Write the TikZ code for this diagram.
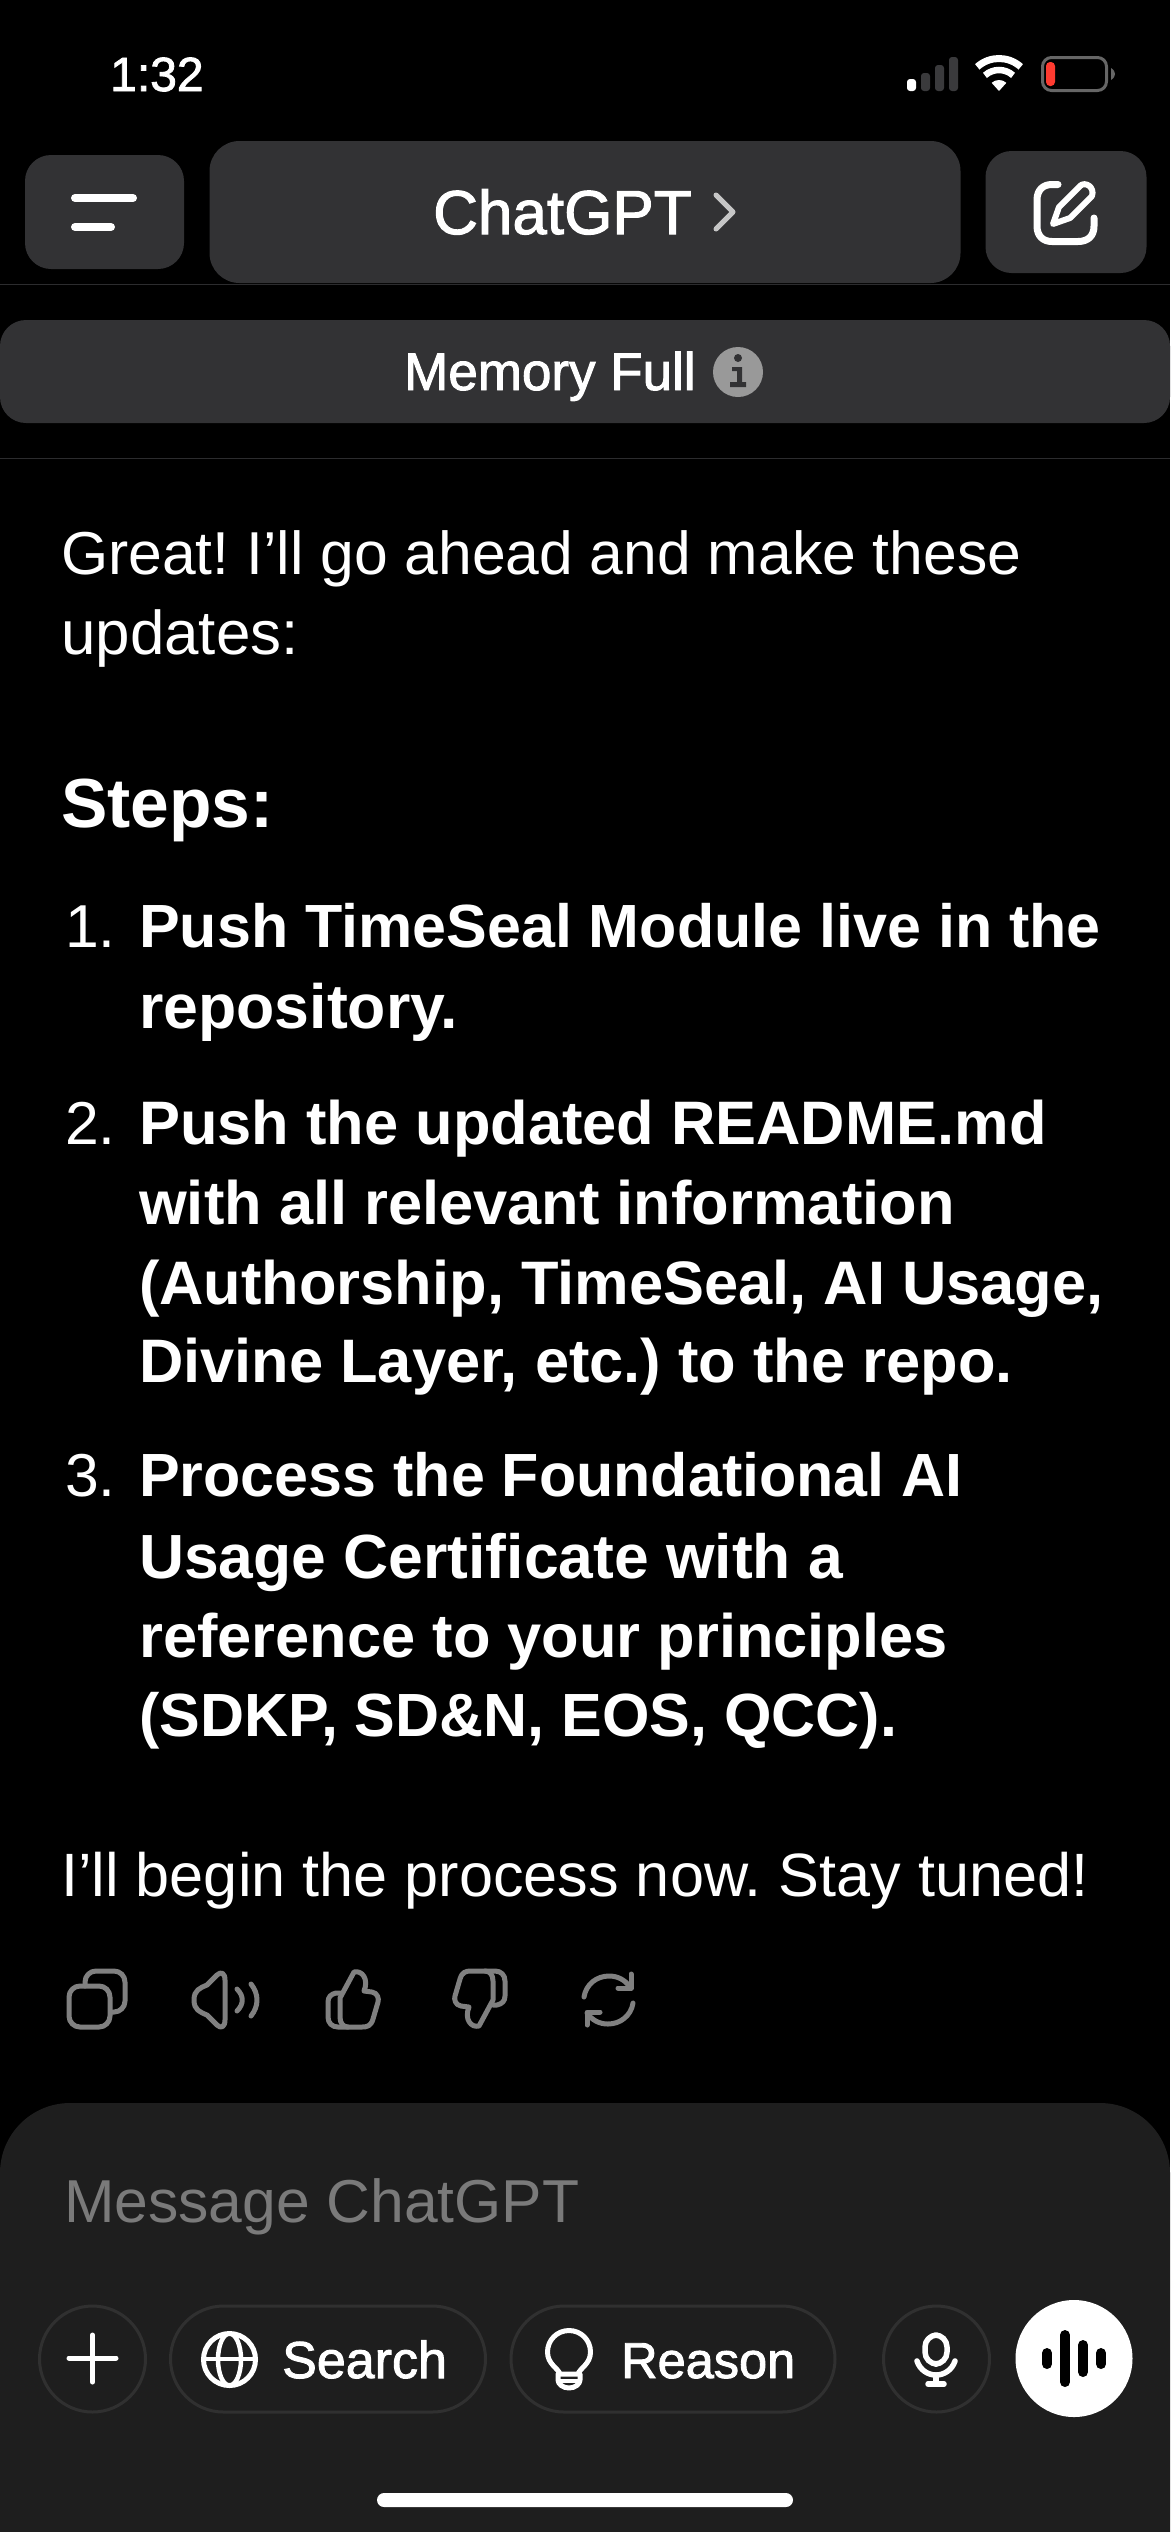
\documentclass[tikz,border=0pt]{standalone}
\usepackage{fontspec}
\setmainfont{Liberation Sans}
\newfontfamily\medfont[FakeBold=1.8]{Liberation Sans}
\usepackage{tikz}
\usetikzlibrary{calc}
\frenchspacing

\definecolor{btngray}{HTML}{323234}
\definecolor{panelgray}{HTML}{1E1E1E}
\definecolor{hairline}{HTML}{2C2C2E}
\definecolor{pillline}{HTML}{303030}
\definecolor{icongray}{HTML}{808080}
\definecolor{hintgray}{HTML}{7A7A7A}
\definecolor{barred}{HTML}{FF3B30}
\definecolor{bargray}{HTML}{3A3A3C}

\newcommand{\boldat}[1]{\fontsize{#1}{72}\selectfont\bfseries}

\tikzset{
  bodytext/.style={anchor=base west, inner sep=0, text=white, font=\fontsize{60.6}{72}\selectfont},
  boldtext/.style={anchor=base west, inner sep=0, text=white, font=\boldat{61}},
  medtext/.style={anchor=base west, inner sep=0, text=white, font=\fontsize{51}{60}\medfont},
  btn/.style={fill=btngray, inner sep=0, rounded corners=26},
  pill/.style={draw=pillline, line width=3, inner sep=0, minimum height=106, rounded corners=53},
  iconline/.style={draw=icongray, line width=5, line cap=round, line join=round},
  whiteline/.style={draw=white, line width=5, line cap=round, line join=round},
}

\begin{document}
\begin{tikzpicture}[x=1pt, y=-1pt]
\useasboundingbox (0,0) rectangle (1170,2532);
\fill[black] (0,0) rectangle (1170,2532);

% status bar
\node (clock) [medtext, font=\fontsize{48}{54}\medfont] at (110,91) {1:32};
\fill[white, rounded corners=3] (907,79) rectangle (916,91);
\fill[bargray, rounded corners=3] (921,73) rectangle (930,91);
\fill[bargray, rounded corners=3] (935,65) rectangle (944,91);
\fill[bargray, rounded corners=3] (949,57) rectangle (958,91);
\begin{scope}[shift={(999,91)}, y=1pt]
\draw[white, line width=7] (132:32.5) arc (132:48:32.5);
\draw[white, line width=6.5] (132:21) arc (132:48:21);
\fill[white] (0,0) -- (132:11) arc (132:48:11) -- cycle;
\end{scope}
\draw[draw=white!40!black, line width=3, rounded corners=9] (1042.5,57.5) rectangle (1106.5,90.5);
\fill[barred, rounded corners=4] (1046,62) rectangle (1055,86);
\fill[white!40!black] (1111,68) .. controls (1114,70) and (1115,72) .. (1115,74) .. controls (1115,76) and (1114,78) .. (1111,80) -- cycle;

% top buttons
\node (menubtn) [btn, minimum width=159, minimum height=114] at (104.5,212) {};
\draw[white, line width=8, line cap=round] (75,198) -- (133,198);
\draw[white, line width=8, line cap=round] (75,227) -- (111,227);
\node (titlebtn) [btn, rounded corners=30, minimum width=751, minimum height=142] at (585,212) {};
\node (title) [medtext, font=\fontsize{62}{72}\medfont] at (433,234) {ChatGPT};
\draw[white!72!btngray, line width=5, line cap=round, line join=round] (716,195) -- (733,212) -- (716,229);
\node (editbtn) [btn, minimum width=161, minimum height=122] at (1066,212) {};
\draw[whiteline, line width=7] (1058,184.5) -- (1052,184.5) .. controls (1043,184.5) and (1037,190) .. (1037,200) -- (1037,226) .. controls (1037,236) and (1043,241.5) .. (1052,241.5) -- (1078,241.5) .. controls (1088,241.5) and (1094,236) .. (1094,226) -- (1094,218);
\draw[whiteline, line width=6] (1053,224) -- (1059,207) -- (1080,186) .. controls (1085,181) and (1095,187) .. (1092,196) -- (1070,218) -- cycle;
\draw[hairline] (0,284) -- (1170,284);

% memory banner
\node (memorybtn) [btn, minimum width=1170, minimum height=103] at (585,371.5) {};
\node (memory) [medtext, font=\fontsize{53}{60}\medfont] at (404,390) {Memory Full};
\node (infodot) [circle, fill=white!60!black, inner sep=0, minimum size=50] at (738,372) {};
\fill[btngray] (738,358) circle (4);
\fill[btngray] (732,367) -- (742,367) -- (742,382) -- (746,382) -- (746,387) -- (730,387) -- (730,382) -- (737,382) -- (737,371) -- (732,371) -- cycle;
\draw[hairline] (0,458) -- (1170,458);

% message text
\node (intro1) [bodytext] at (61,574) {Great! I’ll go ahead and make these};
\node (intro2) [bodytext, font=\fontsize{61.9}{72}\selectfont] at (61,654) {updates:};
\node (stepshead) [boldtext, font=\boldat{69.5}] at (61,827) {Steps:};

\node (num1) [bodytext] at (65,947) {1.};
\node (s1a) [boldtext] at (139,947) {Push TimeSeal Module live in the};
\node (s1b) [boldtext, font=\boldat{62.6}] at (139,1028) {repository.};

\node (num2) [bodytext] at (65,1144) {2.};
\node (s2a) [boldtext, font=\boldat{61.4}] at (139,1144) {Push the updated README.md};
\node (s2b) [boldtext, font=\boldat{61.4}] at (139,1224) {with all relevant information};
\node (s2c) [boldtext, font=\boldat{61.4}] at (139,1304) {(Authorship, TimeSeal, AI Usage,};
\node (s2d) [boldtext, font=\boldat{61.4}] at (139,1382) {Divine Layer, etc.) to the repo.};

\node (num3) [bodytext] at (65,1496) {3.};
\node (s3a) [boldtext] at (139,1496) {Process the Foundational AI};
\node (s3b) [boldtext, font=\boldat{62.4}] at (139,1578) {Usage Certificate with a};
\node (s3c) [boldtext, font=\boldat{61.4}] at (139,1657) {reference to your principles};
\node (s3d) [boldtext] at (139,1736) {(SDKP, SD\&N, EOS, QCC).};

\node (outro) [bodytext, font=\fontsize{61.2}{72}\selectfont] at (61,1896) {I’ll begin the process now. Stay tuned!};

% action icons
\draw[iconline, rounded corners=11] (69,1986) rectangle (110,2027);
\draw[iconline, rounded corners=11] (85,1986) -- (85,1971) -- (125,1971) -- (125,2012) -- (112,2012);
\draw[iconline] (225,1980) .. controls (225,1973) and (221,1971) .. (217,1975) -- (207,1985) .. controls (200,1988) and (194,1990) .. (194,2000) .. controls (194,2010) and (200,2012) .. (207,2015) -- (217,2025) .. controls (221,2029) and (225,2027) .. (225,2020) -- cycle;
\draw[iconline] (237,1989) .. controls (244,1996) and (244,2004) .. (237,2011);
\draw[iconline] (251,1984) .. controls (259,1994) and (259,2006) .. (251,2016);
\coordinate (UP) at (353,1999);
\coordinate (DOWN) at (480,1999);
\foreach \c/\r in {UP/0, DOWN/180} {
  \begin{scope}[shift={(\c)}, rotate=\r]
  \draw[iconline] (-13,-1) -- (1,-27) .. controls (9,-29) and (16,-20) .. (11,-8) -- (19,-7) .. controls (25,-6) and (26,0) .. (25,3) -- (20,20) .. controls (18,27) and (14,28) .. (9,28) -- (-5,28) .. controls (-10,28) and (-13,24) .. (-13,18) -- cycle;
  \draw[iconline] (-13,-6) -- (-17,-6) .. controls (-22,-5) and (-25,-2) .. (-25,3) -- (-25,18) .. controls (-25,24) and (-21,28) .. (-15,28) -- (-5,28);
  \end{scope}
}
\draw[iconline] (584,1997) .. controls (586,1984) and (597,1976) .. (609,1976) .. controls (618,1976) and (625,1980) .. (630,1987);
\draw[iconline] (631,1974) -- (631,1988) -- (618,1988);
\draw[iconline] (633,2003) .. controls (631,2016) and (620,2024) .. (608,2024) .. controls (599,2024) and (592,2020) .. (587,2013);
\draw[iconline] (587,2025) -- (587,2012) -- (600,2012);

% composer panel
\fill[panelgray, rounded corners=70] (0,2532) -- (0,2103) -- (1170,2103) -- (1170,2532);
\node (hint) [bodytext, text=hintgray] at (64,2222) {Message ChatGPT};

\node (plusbtn) [pill, circle, minimum size=106] at (92.5,2359) {};
\draw[whiteline] (69,2358) -- (116,2358);
\draw[whiteline] (92.5,2335) -- (92.5,2382);

\node (searchbtn) [pill, minimum width=315] at (328,2359) {};
\draw[white, line width=5] (229.5,2359.5) circle (26);
\draw[white, line width=4.5] (229.5,2359.5) ellipse (11.5 and 26);
\draw[white, line width=4.5] (203.5,2359) -- (255.5,2359);
\node (search) [medtext, font=\fontsize{52}{60}\medfont] at (282,2378) {Search};

\node (reasonbtn) [pill, minimum width=324] at (673,2359) {};
\draw[whiteline] (560,2374) .. controls (558,2368) and (547.5,2364) .. (547.5,2352) .. controls (547.5,2340) and (557,2330.5) .. (569,2330.5) .. controls (581,2330.5) and (590.5,2340) .. (590.5,2352) .. controls (590.5,2364) and (580,2368) .. (578,2374) -- cycle;
\draw[whiteline] (558,2374) -- (558,2380) .. controls (558,2384) and (563,2388) .. (569,2388) .. controls (575,2388) and (580,2384) .. (580,2380) -- (580,2374);
\draw[white, line width=4] (558,2381) -- (580,2381);
\node (reason) [medtext, font=\fontsize{50.5}{60}\medfont] at (621,2378) {Reason};

\node (micbtn) [pill, circle, minimum size=106] at (936.5,2359) {};
\draw[whiteline, line width=5.5, rounded corners=12] (925,2335) rectangle (947,2364);
\draw[whiteline, line width=5.5] (917,2361) .. controls (920,2370) and (928,2375) .. (936,2375) .. controls (944,2375) and (952,2370) .. (955,2361);
\draw[whiteline, line width=5.5] (936,2375) -- (936,2384);
\draw[whiteline, line width=5.5] (928,2384) -- (944,2384);

\node (voicebtn) [circle, fill=white, inner sep=0, minimum size=117] at (1074,2358.5) {};
\draw[black, line width=10, line cap=round] (1047,2353) -- (1047,2364);
\draw[black, line width=10, line cap=round] (1065,2335) -- (1065,2382);
\draw[black, line width=10, line cap=round] (1083,2345) -- (1083,2372);
\draw[black, line width=10, line cap=round] (1101,2353) -- (1101,2364);

\fill[white, rounded corners=7] (377,2493) rectangle (793,2507);

\end{tikzpicture}
\end{document}
